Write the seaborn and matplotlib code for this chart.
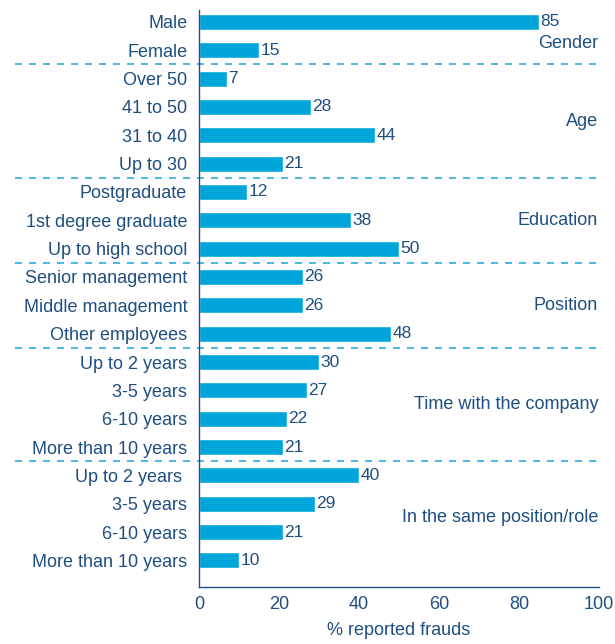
import pandas as pd
import matplotlib.pyplot as plt
import seaborn as sns

# data
groups = ["Gender", "Age", "Education", "Position",
          "Time with the company", "In the same position/role"]
group_sizes = [2, 4, 3, 3, 4, 4]
labels = ["Male", "Female",
          "Over 50", "41 to 50", "31 to 40", "Up to 30",
          "Postgraduate", "1st degree graduate", "Up to high school",
          "Senior management", "Middle management", "Other employees",
          "Up to 2 years", "3-5 years", "6-10 years", "More than 10 years",
          "Up to 2 years ", "3-5 years", "6-10 years", "More than 10 years"]
values = [85, 15,
          7, 28, 44, 21,
          12, 38, 50,
          26, 26, 48,
          30, 27, 22, 21,
          40, 29, 21, 10]

bar_color = "#00A6D9"
text_color = "#1F4E80"
dash_color = "#29ABE2"

sns.set_style("white")
plt.rcParams["font.family"] = ["Liberation Sans", "DejaVu Sans"]
plt.rcParams["font.size"] = 13

df = pd.DataFrame({"row": [f"r{i}" for i in range(len(values))], "value": values})

fig = plt.figure(figsize=(6.15, 6.44), dpi=100)
ax = fig.add_axes([0.3236, 0.088, 0.6504, 0.8965])

sns.barplot(data=df, x="value", y="row", orient="h", color=bar_color,
            width=0.56, saturation=1, ax=ax)

ax.bar_label(ax.containers[0], padding=1, color=text_color, fontsize=12.5)

ax.set_xlim(0, 100)
ax.set_ylim(len(values) - 0.05, -0.42)
ax.set_xticks(range(0, 101, 20))
ax.set_yticks(range(len(labels)))
ax.set_yticklabels(labels, color=text_color)
ax.tick_params(axis="y", length=0, pad=8.5)
ax.tick_params(axis="x", direction="in", length=10, width=1, color=text_color,
               labelcolor=text_color, pad=6)
ax.set_xlabel("% reported frauds", color=text_color, labelpad=7)
ax.set_ylabel("")

for s in ["top", "right"]:
    ax.spines[s].set_visible(False)
for s in ["left", "bottom"]:
    ax.spines[s].set_color(text_color)
    ax.spines[s].set_linewidth(1)

# group separators and group names
start = 0
for i, (g, n) in enumerate(zip(groups, group_sizes)):
    mid = start + (n - 1) / 2
    if g == "Gender":
        mid += 0.25
    ax.text(99.8, mid, g, ha="right", va="center", color=text_color)
    if i > 0:
        ax.axhline(start - 0.5, xmin=-0.46, xmax=1.0, color=dash_color, lw=1.2,
                   linestyle=(0, (4.2, 4.2)), clip_on=False)
    start += n

plt.savefig("out.png", dpi=100)
